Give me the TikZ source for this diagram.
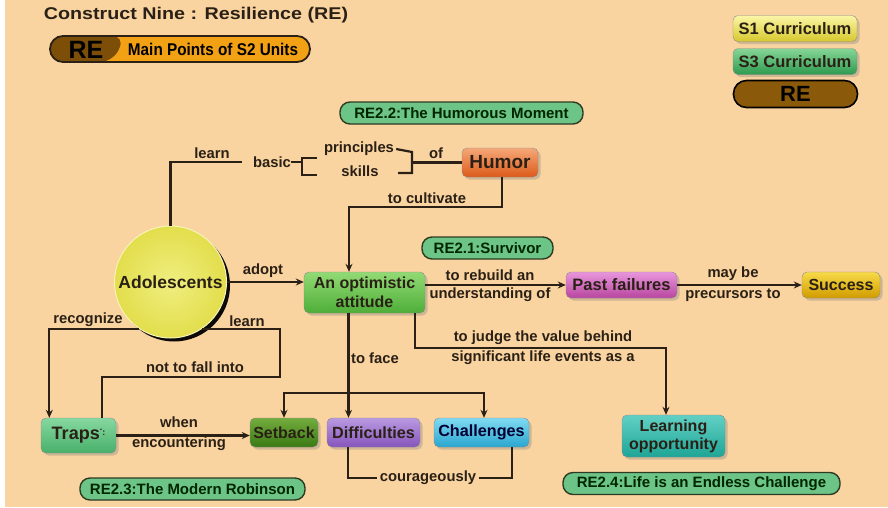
\documentclass[tikz,border=0pt]{standalone}
\usepackage{fontspec}
\setmainfont{Liberation Sans}
\usetikzlibrary{arrows.meta,shadows,calc}

\definecolor{paper}{HTML}{FAD4A0}
\definecolor{ink}{HTML}{2A2016}
\definecolor{pillgreen}{HTML}{6CC487}
\definecolor{pilledge}{HTML}{2E3A22}
\definecolor{rebrown}{HTML}{7C4E08}
\definecolor{reorange}{HTML}{F3A114}
\definecolor{legbrown}{HTML}{8A5A0A}
% top / bottom tones of the glossy boxes
\definecolor{sonetop}{HTML}{FBF6A6}\definecolor{sonebot}{HTML}{D6C82C}
\definecolor{sthrtop}{HTML}{86D696}\definecolor{sthrbot}{HTML}{2E9A50}
\definecolor{adolin}{HTML}{F0EE80}\definecolor{adolout}{HTML}{E2DE4C}
\definecolor{adolrim}{HTML}{F6F4B8}
\definecolor{humtop}{HTML}{F5A878}\definecolor{humbot}{HTML}{DC5A1A}
\definecolor{opttop}{HTML}{92DA74}\definecolor{optbot}{HTML}{4EAE38}
\definecolor{pasttop}{HTML}{E896DC}\definecolor{pastbot}{HTML}{B8469F}
\definecolor{succtop}{HTML}{F7DA48}\definecolor{succbot}{HTML}{D09C00}
\definecolor{lrntop}{HTML}{62D0C4}\definecolor{lrnbot}{HTML}{1EA596}
\definecolor{setbtop}{HTML}{74AC3E}\definecolor{setbbot}{HTML}{3A7A14}
\definecolor{difftop}{HTML}{BA9AE2}\definecolor{diffbot}{HTML}{8655BC}
\definecolor{chaltop}{HTML}{80DAF2}\definecolor{chalbot}{HTML}{2AA6CF}
\definecolor{traptop}{HTML}{86D8A0}\definecolor{trapbot}{HTML}{48B06A}

\newcommand\setfs[1]{\fontsize{#1}{#1}\selectfont}

\begin{document}
\begin{tikzpicture}[x=1pt,y=-1pt,
  every node/.style={font=\bfseries, text=ink},
  conn/.style={draw=ink, line width=2.2pt},
  arr/.style={conn, -{Stealth[length=8pt,width=7pt]}},
  lbl/.style={font=\bfseries\setfs{14.8}, inner sep=0pt},
  gloss/.style 2 args={top color=#1, bottom color=#2},
  box/.style={rounded corners=5pt, inner sep=2pt, align=center, draw=black!45, line width=0.4pt,
    drop shadow={shadow xshift=2.5pt, shadow yshift=-2.5pt, opacity=0.35}},
  pill/.style={draw=pilledge, line width=1.4pt, fill=pillgreen, rounded corners=10pt,
    inner sep=0pt, minimum height=22pt, font=\bfseries\setfs{15}, text=black!85!green}
]
% page
\fill[white] (0,0) rectangle (888,507);
\fill[paper] (5,0) rectangle (888,507);
\useasboundingbox (0,0) rectangle (888,507);

% heading and key
\node[font=\bfseries\setfs{17}] (title) at (196,15) {\scalebox{1.16}[1]{Construct Nine : Resilience (RE)}};
\node[draw=ink, line width=1.8pt, rounded corners=13pt, minimum width=260pt, minimum height=26pt,
  fill=reorange, inner sep=0pt,
  path picture={\fill[rebrown] (path picture bounding box.north west) -- ([xshift=75pt]path picture bounding box.north west)
    -- ([xshift=63pt]path picture bounding box.south west) -- (path picture bounding box.south west) -- cycle;}]
  (mainpts) at (180,49) {};
\node[font=\bfseries\setfs{25}, text=black] (mpre) at (86,49.5) {RE};
\node[font=\bfseries\setfs{17}, text=black] (mptxt) at (213,49) {\scalebox{0.9}[1]{Main Points of S2 Units}};

\node[box, gloss={sonetop}{sonebot}, minimum width=124pt, minimum height=26pt, font=\bfseries\setfs{16.5}] (s1) at (795,28.5) {S1 Curriculum};
\node[box, gloss={sthrtop}{sthrbot}, minimum width=124pt, minimum height=26pt, font=\bfseries\setfs{16.5}] (s3) at (795,61.5) {S3 Curriculum};
\node[draw=black, line width=1.6pt, fill=legbrown, rounded corners=13pt, minimum width=124pt, minimum height=27pt,
  font=\bfseries\setfs{22}, text=black] (relg) at (795.5,94) {RE};

% unit tags
\node[pill, minimum width=243pt] (re22) at (461.5,113) {RE2.2:The Humorous Moment};
\node[pill, minimum width=131pt] (re21) at (487.5,248) {RE2.1:Survivor};
\node[pill, minimum width=225pt] (re23) at (192.5,489) {RE2.3:The Modern Robinson};
\node[pill, minimum width=277pt] (re24) at (701.5,483.5) {RE2.4:Life is an Endless Challenge};

% concepts
\node[circle, minimum size=112pt, inner sep=0pt, draw=adolrim, line width=1pt,
  inner color=adolin, outer color=adolout,
  drop shadow={shadow xshift=3.5pt, shadow yshift=-3.5pt, opacity=0.95, fill=black},
  font=\bfseries\setfs{17.5}] (adol) at (170.5,282) {Adolescents};
\node[box, gloss={humtop}{humbot}, minimum width=76pt, minimum height=29pt, font=\bfseries\setfs{19}] (humor) at (500,162.5) {Humor};
\node[box, gloss={opttop}{optbot}, minimum width=121pt, minimum height=41pt, font=\bfseries\fontsize{16}{19}\selectfont] (opt) at (364.5,292.5) {An optimistic\\attitude};
\node[box, gloss={pasttop}{pastbot}, minimum width=111pt, minimum height=26pt, font=\bfseries\setfs{16.5}] (past) at (621.5,285) {Past failures};
\node[box, gloss={succtop}{succbot}, minimum width=78pt, minimum height=26pt, font=\bfseries\setfs{16}] (succ) at (841,285) {Success};
\node[box, gloss={lrntop}{lrnbot}, minimum width=103pt, minimum height=42pt, font=\bfseries\fontsize{16}{18}\selectfont] (learn) at (673.5,436) {Learning\\opportunity};
\node[box, gloss={setbtop}{setbbot}, minimum width=68pt, minimum height=29pt, font=\bfseries\setfs{16}] (setb) at (284,432.5) {Setback};
\node[box, gloss={difftop}{diffbot}, minimum width=93pt, minimum height=29pt, font=\bfseries\setfs{16.2}] (diff) at (373.5,432.5) {Difficulties};
\node[box, gloss={chaltop}{chalbot}, minimum width=95pt, minimum height=29pt, font=\bfseries\setfs{16.2}, text=black!80!blue] (chal) at (481.5,432.5) {Challenges};
\node[box, gloss={traptop}{trapbot}, minimum width=75pt, minimum height=35pt, font=\bfseries\setfs{18}] (traps) at (78.5,435.5)
  {Traps\raisebox{9pt}{\setfs{9}.}\raisebox{4pt}{\setfs{9}:}};

% words around the bracket
\node[lbl] (basic) at (272,162) {basic};
\node[lbl] (pr) at (359,149) {principles};
\node[lbl] (sk) at (360,171) {skills};
\coordinate (lbr) at (302,162);
\coordinate (rbr) at (412,162.5);

% link labels
\node[lbl] at (212,153) {learn};
\node[lbl] at (436,153) {of};
\node[lbl] at (427,198) {to cultivate};
\node[lbl] at (263,271) {adopt};
\node[lbl] at (490,275) {to rebuild an};
\node[lbl] at (490,295) {understanding of};
\node[lbl] at (733,274) {may be};
\node[lbl] at (733,295) {precursors to};
\node[lbl] at (543,338) {to judge the value behind};
\node[lbl] at (543,358) {significant life events as a};
\node[lbl] at (375,358) {to face};
\node[lbl] at (88,320) {recognize};
\node[lbl] at (247,321) {learn};
\node[lbl] at (195,367) {not to fall into};
\node[lbl] at (179,422) {when};
\node[lbl] at (179,444) {encountering};
\node[lbl] (cour) at (428,478) {courageously};

% helper points for the elbows
\coordinate (cultc) at (349,207);
\coordinate (jc) at (666,348);
\coordinate (fork) at (348,393);
\coordinate (lrn1) at (280,377);

% connectors
\draw[conn] (adol.north) |- ([xshift=-11pt]basic.west);
\draw[conn] (basic.east) -- (lbr);
\draw[conn] (317,158) -- (302,158) -- (302,175) -- (317,175);
\draw[conn] ([xshift=2pt]pr.east) -- (412,152) -- (412,173) -- (398,173);
\draw[conn] (rbr) -- (humor.west);

\draw[arr] ([xshift=2pt]humor.south) |- (cultc) -- (cultc |- opt.north);
\draw[arr] (adol.east) -- (adol.east -| opt.west);
\draw[arr] (opt.east |- past.west) -- (past.west);
\draw[arr] (past.east) -- (succ.west);
\draw[arr] ([xshift=-10pt]opt.south east) |- (jc) -- (jc |- learn.north);
\draw[arr] ([xshift=-16pt]opt.south) -- ([xshift=-16pt]opt.south |- diff.north);
\draw[arr] (fork) -| (setb.north);
\draw[arr] (fork) -| ([xshift=2.5pt]chal.north);
\draw[conn] ([xshift=-25.5pt]diff.south) |- ([xshift=-3pt]cour.west);
\draw[conn] ([xshift=3pt]cour.east) -| ([xshift=30.5pt]chal.south);

\draw[arr] (adol.236) -| ([xshift=8.5pt]traps.north west);
\draw[conn] (adol.304) -| (lrn1) -| ([xshift=-14pt]traps.north east);
\draw[arr] (traps.east) -- (traps.east -| setb.west);
\end{tikzpicture}
\end{document}
